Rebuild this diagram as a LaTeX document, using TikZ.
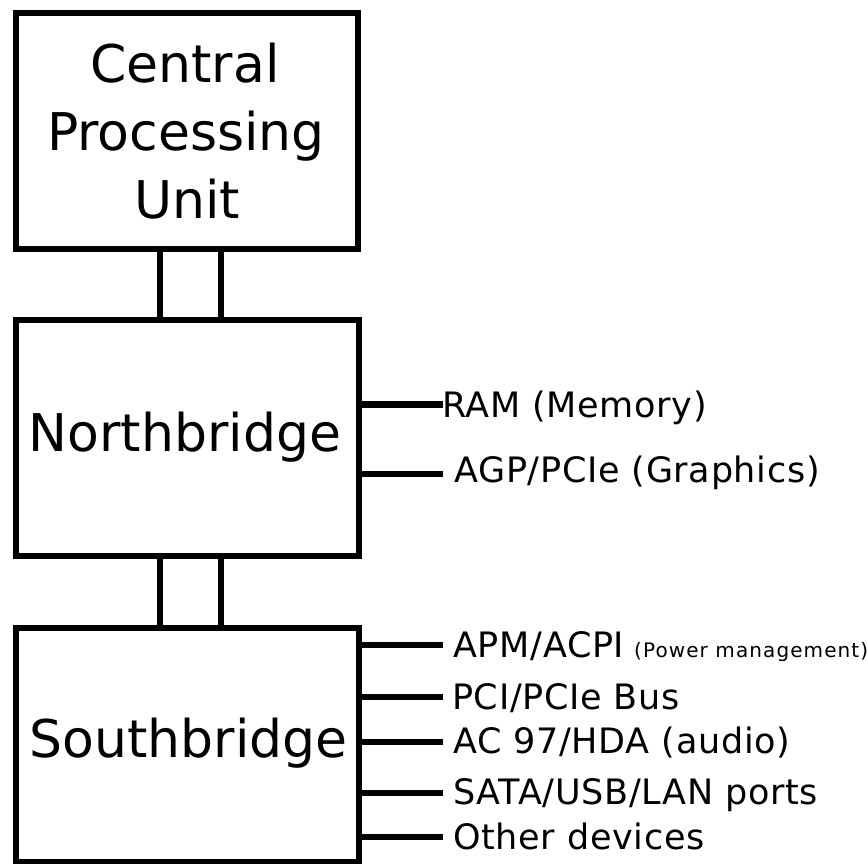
\documentclass[tikz,border=0pt]{standalone}
\usepackage{fontspec}
\setmainfont{DejaVu Sans}
\newfontfamily\spacedfont[LetterSpace=2]{DejaVu Sans}
\newfontfamily\widefont[LetterSpace=5.5]{DejaVu Sans}
\begin{document}
\begin{tikzpicture}[x=1pt,y=-1pt,
  box/.style={draw=black,line width=6.8pt,inner sep=0pt,minimum width=343pt,minimum height=236pt},
  wire/.style={draw=black,line width=6.8pt},
  big/.style={inner sep=0pt,anchor=base,font=\fontsize{52}{68}\selectfont},
  lbl/.style={inner sep=0pt,anchor=base west,font=\spacedfont\fontsize{35}{40}\selectfont},
  tiny/.style={inner sep=0pt,anchor=base west,font=\widefont\fontsize{20}{22}\selectfont}]
\useasboundingbox (0,0) rectangle (867,863);
\fill[white] (0,0) rectangle (867,863);
% boxes
\node[box,minimum width=342pt] (cpu) at (187,131) {};
\node[box] (nb) at (187.5,438) {};
\node[box,minimum height=234.5pt] (sb) at (187.5,745.25) {};
% box texts
\node[big] (t1) at (185,82) {Central};
\node[big] (t2) at (186,150) {Processing};
\node[big] (t3) at (187,218) {Unit};
\node[big] (tnb) at (185,451) {Northbridge};
\node[big] (tsb) at (188.5,757) {Southbridge};
% bus columns
\coordinate (xa) at (160,0);
\coordinate (xb) at (221,0);
\draw[wire] (cpu.south -| xa) -- (nb.north -| xa);
\draw[wire] (cpu.south -| xb) -- (nb.north -| xb);
\draw[wire] (nb.south -| xa) -- (sb.north -| xa);
\draw[wire] (nb.south -| xb) -- (sb.north -| xb);
% northbridge links
\coordinate (ram) at (443,404.5);
\coordinate (agp) at (443,474);
\draw[wire] (ram -| nb.east) -- (ram);
\draw[wire] (agp -| nb.east) -- (agp);
\node[lbl] (lram) at (442,417) {RAM (Memory)};
\node[lbl] (lagp) at (454,482) {AGP/PCIe (Graphics)};
% southbridge links
\coordinate (apm) at (443,645);
\coordinate (pci) at (443,697);
\coordinate (ac) at (443,742);
\coordinate (sata) at (443,793);
\coordinate (oth) at (443,837);
\draw[wire] (apm -| sb.east) -- (apm);
\draw[wire] (pci -| sb.east) -- (pci);
\draw[wire] (ac -| sb.east) -- (ac);
\draw[wire] (sata -| sb.east) -- (sata);
\draw[wire] (oth -| sb.east) -- (oth);
\node[lbl] (lapm) at (453,657) {APM/ACPI};
\node[tiny] (lpow) at (634,657) {(Power management)};
\node[lbl] (lpci) at (452,709) {PCI/PCIe Bus};
\node[lbl] (lac) at (453,753) {AC 97/HDA (audio)};
\node[lbl] (lsata) at (453,804) {SATA/USB/LAN ports};
\node[lbl] (loth) at (453,849) {Other devices};
\end{tikzpicture}
\end{document}
